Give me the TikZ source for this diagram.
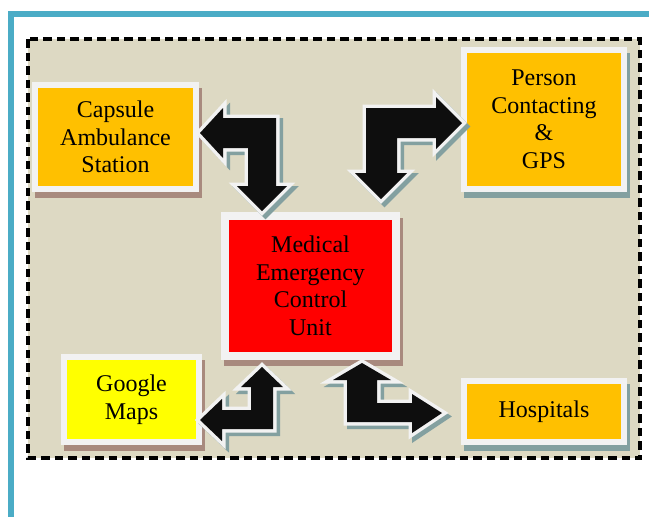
\documentclass[tikz,border=0pt]{standalone}
\usepackage{fontspec}
\setmainfont{Liberation Serif}
\usetikzlibrary{calc}
\pgfdeclarelayer{bg}
\pgfdeclarelayer{shd}
\pgfsetlayers{bg,shd,main}
\definecolor{beige}{HTML}{DDD9C3}
\definecolor{frameblue}{HTML}{4BACC6}
\definecolor{boxwhite}{HTML}{F2F2F2}
\definecolor{orangebox}{HTML}{FFC000}
\definecolor{yellowbox}{HTML}{FFFF00}
\definecolor{redbox}{HTML}{FF0000}
\definecolor{shbrown}{HTML}{A88A7E}
\definecolor{shteal}{HTML}{83A0A0}
\definecolor{arrblack}{HTML}{0E0E0E}
\tikzset{
  box/.style={draw=boxwhite, line width=6pt, inner sep=0pt, align=center,
    font=\fontsize{24}{27.5}\selectfont, text=black},
  arrshadow/.style={fill=shteal, draw=shteal, line width=7pt, line join=miter},
  arroutline/.style={fill=boxwhite, draw=boxwhite, line width=7pt, line join=miter},
  arrbody/.style={fill=arrblack},
  dashframe/.style={draw=black, line width=3.6pt, dash pattern=on 8.5pt off 5pt}
}
\newcommand\bentarrow[1]{%
  \path[arrshadow, shift={(3.5,3.5)}] #1;
  \path[arroutline] #1;
  \path[arrbody] #1;
}
\def\arrA{(200,133) -- (223,108) -- (223,118) -- (276,118) -- (276,186) -- (287,186) -- (262,211) -- (237,186) -- (248,186) -- (248,148) -- (223,148) -- (223,158) -- cycle}
\def\arrB{(462,123) -- (436,97) -- (436,108) -- (366,108) -- (366,173) -- (355,173) -- (381,199) -- (407,173) -- (397,173) -- (397,138) -- (436,138) -- (436,149) -- cycle}
\def\arrC{(262,367) -- (283,387) -- (273,387) -- (273,429) -- (222,429) -- (222,441) -- (200,420) -- (222,399) -- (222,410) -- (251,410) -- (251,387) -- (241,387) -- cycle}
\def\arrD{(362,363) -- (391,380) -- (377,380) -- (377,403) -- (412,403) -- (412,394) -- (442,413) -- (412,433) -- (412,422) -- (347,422) -- (347,380) -- (333,380) -- cycle}
\begin{document}
\begin{tikzpicture}[x=1pt,y=-1pt]
\useasboundingbox (0,0) rectangle (649,517);
\begin{pgfonlayer}{bg}
  \fill[white] (0,0) rectangle (649,517);
  \draw[frameblue, line width=6pt, line join=miter] (11,540) -- (11,14) -- (670,14);
  \fill[beige] (28,39) rectangle (640,458);
  \draw[dashframe] (28,39) rectangle (640,458);
\end{pgfonlayer}

\node[box, fill=orangebox, minimum width=161, minimum height=104] (cap) at (115.5,137) {Capsule\\Ambulance\\Station};
\node[box, fill=orangebox, minimum width=160, minimum height=139] (per) at (544,119.5) {Person\\Contacting\\\&\\GPS};
\node[box, fill=redbox, line width=8pt, minimum width=171, minimum height=140] (med) at (310.5,286) {Medical\\Emergency\\Control\\Unit};
\node[box, fill=yellowbox, minimum width=135, minimum height=85] (goo) at (131.5,399.5) {Google\\Maps};
\node[box, fill=orangebox, minimum width=160, minimum height=61] (hos) at (544,411.5) {Hospitals};

\begin{pgfonlayer}{shd}
  \foreach \n/\c in {cap/shbrown, per/shteal, med/shbrown, goo/shbrown, hos/shteal}
    \fill[\c] ($(\n.north west)+(3,5.5)$) rectangle ($(\n.south east)+(3,5.5)$);
\end{pgfonlayer}

\bentarrow{\arrA}
\bentarrow{\arrB}
\bentarrow{\arrC}
\bentarrow{\arrD}
\end{tikzpicture}
\end{document}
